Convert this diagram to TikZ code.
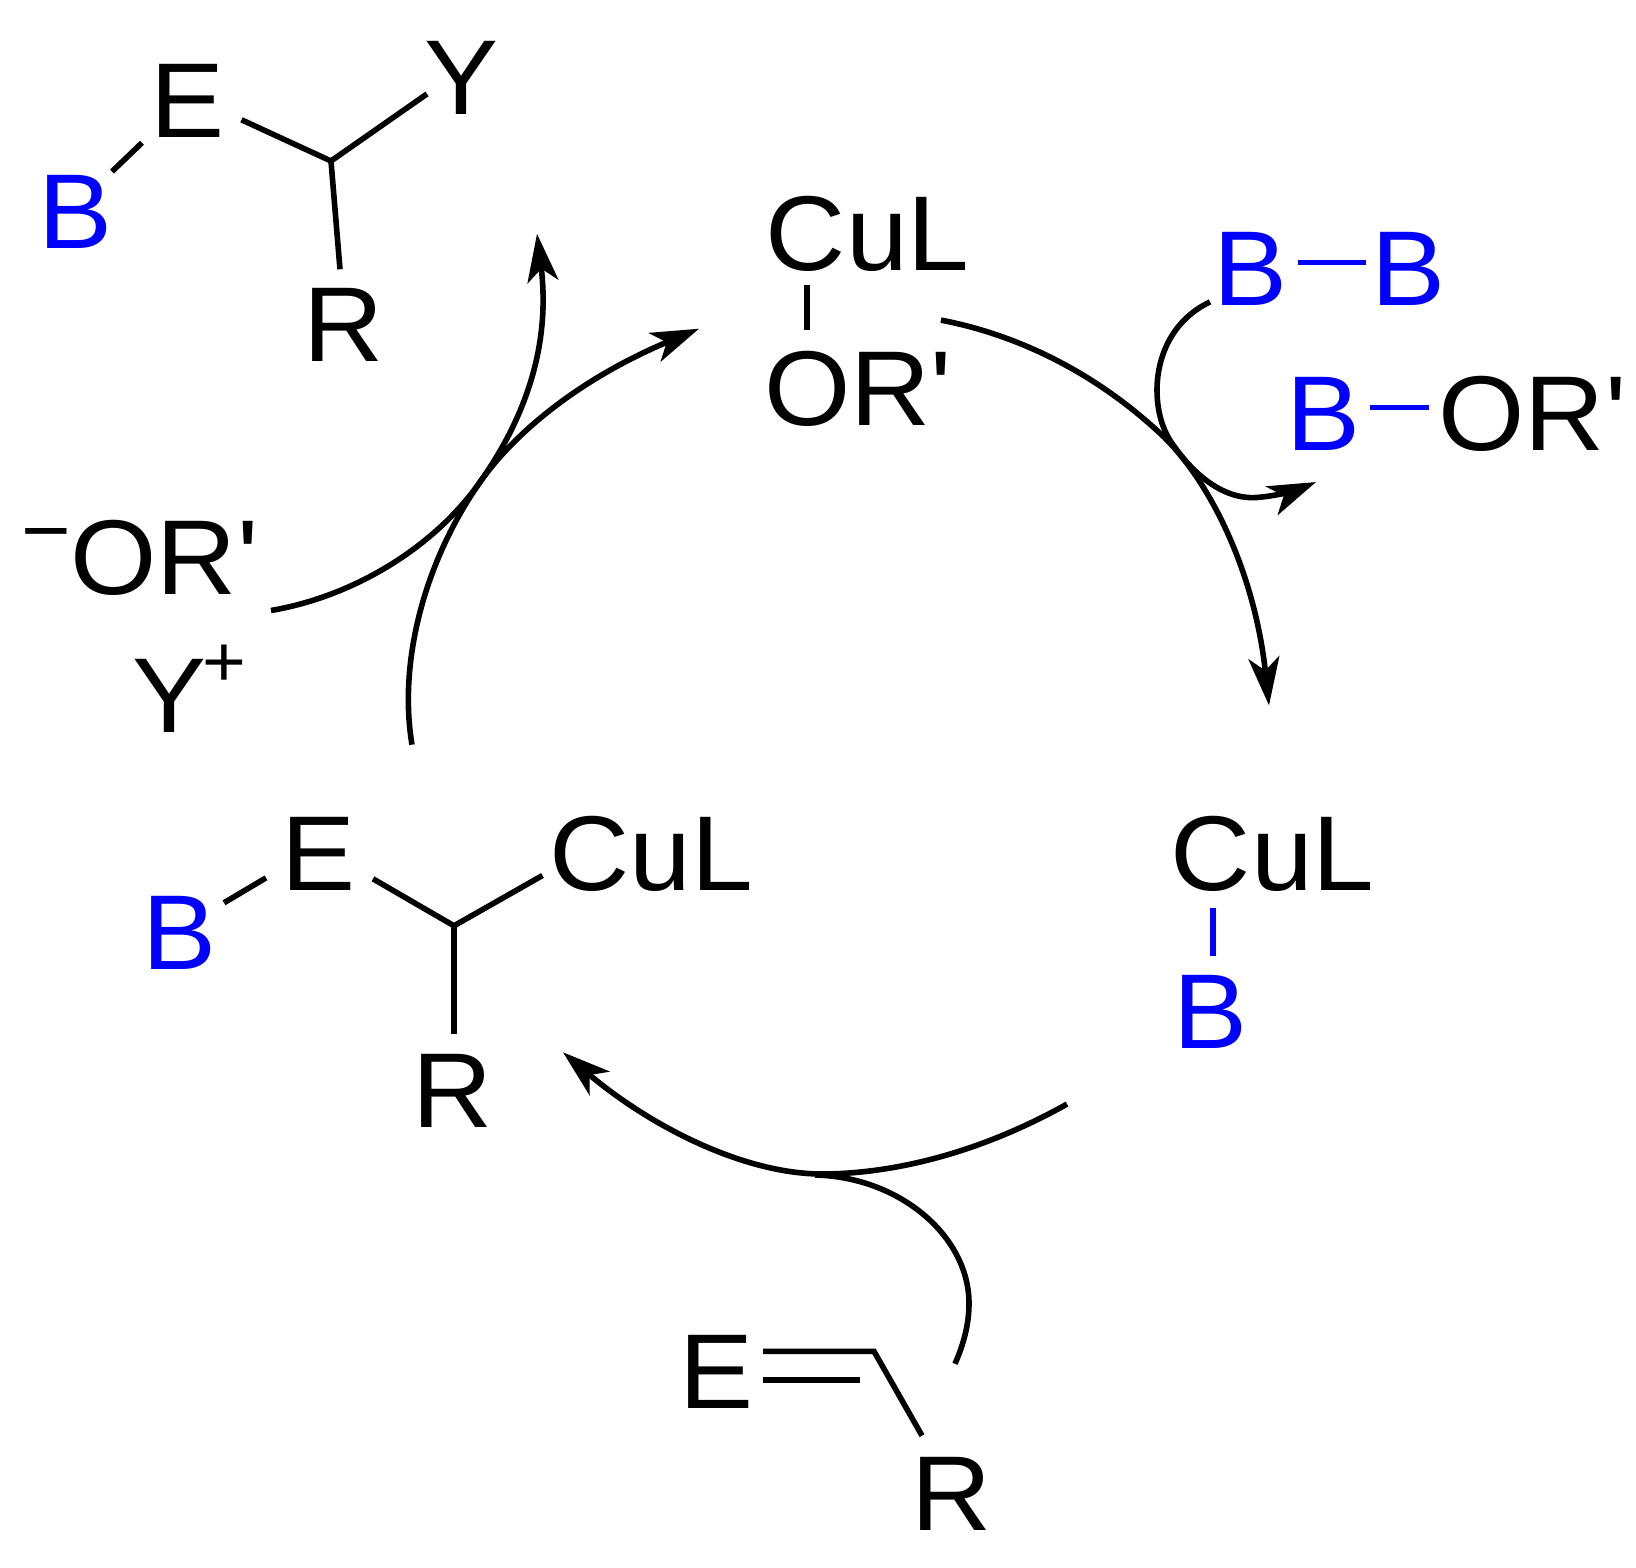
\documentclass[tikz,border=0pt]{standalone}
\usepackage{fontspec}
\usetikzlibrary{arrows.meta}
\newfontfamily\arialfam{Liberation Sans}
\definecolor{boron}{RGB}{0,0,255}
\tikzset{
  atom/.style={transform shape,anchor=base west,inner sep=0pt,outer sep=0pt,text=black,font=\arialfam\fontsize{111}{111}\selectfont},
  boratom/.style={atom,text=boron},
  bond/.style={line width=5.6pt,draw=black},
  bbond/.style={line width=5.6pt,draw=boron},
  curved/.style={line width=5.6pt,draw=black,-{Stealth[length=48pt,width=31pt,inset=13pt]}},
  plain/.style={line width=5.6pt,draw=black}
}
\newcommand{\supminus}{\raisebox{37pt}{\fontsize{85}{85}\selectfont −}}
\newcommand{\supplus}{\kern-4pt\raisebox{48pt}{\fontsize{75}{75}\selectfont +}}
\begin{document}
\begin{tikzpicture}[x=1pt,y=-1pt,yscale=0.95844]
\useasboundingbox (0,0) rectangle (1636,1636);
\fill[white] (0,0) rectangle (1636,1636);
% product
\node[atom] (E1) at (150.2,143.5) {E};
\node[atom] (Y1) at (424,119) {Y};
\node[boratom] (B1) at (38.5,259) {B};
\node[atom] (R1) at (303,377) {R};
\coordinate (b1a) at (112,179); \coordinate (b1b) at (142,149);
\coordinate (c1) at (331,168); \coordinate (e1) at (241.5,125);
\coordinate (y1) at (427,98); \coordinate (r1) at (340,281);
\draw[bond] (b1a) -- (b1b);
\draw[bond,line join=miter] (e1) -- (c1) -- (y1);
\draw[bond] (c1) -- (r1);
% CuL-OR'
\node[atom] (Cu1) at (765.9,282) {CuL};
\node[atom] (O1) at (764.1,444) {OR'};
\coordinate (o1a) at (807,297); \coordinate (o1b) at (807,344);
\draw[bond] (o1a) -- (o1b);
% B-B
\node[boratom] (BB1) at (1213.5,319) {B};
\node[boratom] (BB2) at (1371.5,319) {B};
\coordinate (bba) at (1298,274); \coordinate (bbb) at (1366,274);
\draw[bbond] (bba) -- (bbb);
% B-OR'
\node[boratom] (BO1) at (1286.5,470) {B};
\node[atom] (BO2) at (1438.6,470) {OR'};
\coordinate (boa) at (1370,425); \coordinate (bob) at (1429,425);
\draw[bbond] (boa) -- (bob);
% alkoxide
\node[atom] (OR) at (21,620) {\supminus OR'};
\node[atom] (Yp) at (132,764) {Y\supplus};
% alkyl copper
\node[boratom] (B2) at (142.5,1012) {B};
\node[atom] (E2) at (281,929) {E};
\node[atom] (Cu2) at (549.5,929) {CuL};
\node[atom] (R2) at (412.5,1176) {R};
\coordinate (b2a) at (224,942); \coordinate (b2b) at (266,916);
\coordinate (c2) at (454,966); \coordinate (e2) at (373,917);
\coordinate (u2) at (542.5,913.5); \coordinate (r2) at (454,1079);
\draw[bond] (b2a) -- (b2b);
\draw[bond,line join=miter] (e2) -- (c2) -- (u2);
\draw[bond] (c2) -- (r2);
% CuL-B
\node[atom] (Cu3) at (1170.9,929) {CuL};
\node[boratom] (B3) at (1173.5,1094) {B};
\coordinate (b3a) at (1213,947); \coordinate (b3b) at (1213,998);
\draw[bbond] (b3a) -- (b3b);
% alkene
\node[atom] (E3) at (679,1470) {E};
\node[atom] (R3) at (911,1597) {R};
\coordinate (d1) at (763,1410); \coordinate (d2) at (874,1410);
\coordinate (d3) at (763,1440); \coordinate (d4) at (860,1440);
\coordinate (r3) at (922,1498);
\draw[bond,line join=miter] (d1) -- (d2) -- (r3);
\draw[bond] (d3) -- (d4);
% curved arrows
\coordinate (a0) at (271,637); \coordinate (am) at (480,503); \coordinate (a1) at (537,244);
\draw[curved] (a0) .. controls (355,622) and (435,570) .. (am) .. controls (518,447) and (552,370) .. (a1);
\coordinate (f0) at (412,777); \coordinate (f1) at (699,343);
\draw[curved] (f0) .. controls (398,690) and (425,585) .. (am) .. controls (515,451) and (580,395) .. (f1);
\coordinate (g0) at (941,334); \coordinate (gm) at (1162,454); \coordinate (g1) at (1269,736);
\draw[curved] (g0) .. controls (1030,352) and (1105,398) .. (gm) .. controls (1212,504) and (1255,600) .. (g1);
\coordinate (h0) at (1210,315); \coordinate (hm) at (1157,407); \coordinate (hn) at (1173,464); \coordinate (ho) at (1258,519); \coordinate (h1) at (1316,503);
\draw[curved] (h0) .. controls (1170,335) and (1157,375) .. (hm) .. controls (1157,430) and (1163,450) .. (hn) .. controls (1195,497) and (1225,522) .. (ho) .. controls (1280,517) and (1300,510) .. (h1);
\coordinate (i0) at (1067,1152); \coordinate (im) at (825,1225); \coordinate (i1) at (563,1098);
\draw[curved] (i0) .. controls (985,1200) and (900,1224) .. (im) .. controls (745,1226) and (650,1175) .. (i1);
\coordinate (j0) at (955,1423); \coordinate (jm) at (969,1360); \coordinate (j1) at (815,1226);
\draw[plain] (j0) .. controls (965,1399) and (969,1379) .. (jm) .. controls (969,1290) and (900,1228) .. (j1);
\end{tikzpicture}
\end{document}
